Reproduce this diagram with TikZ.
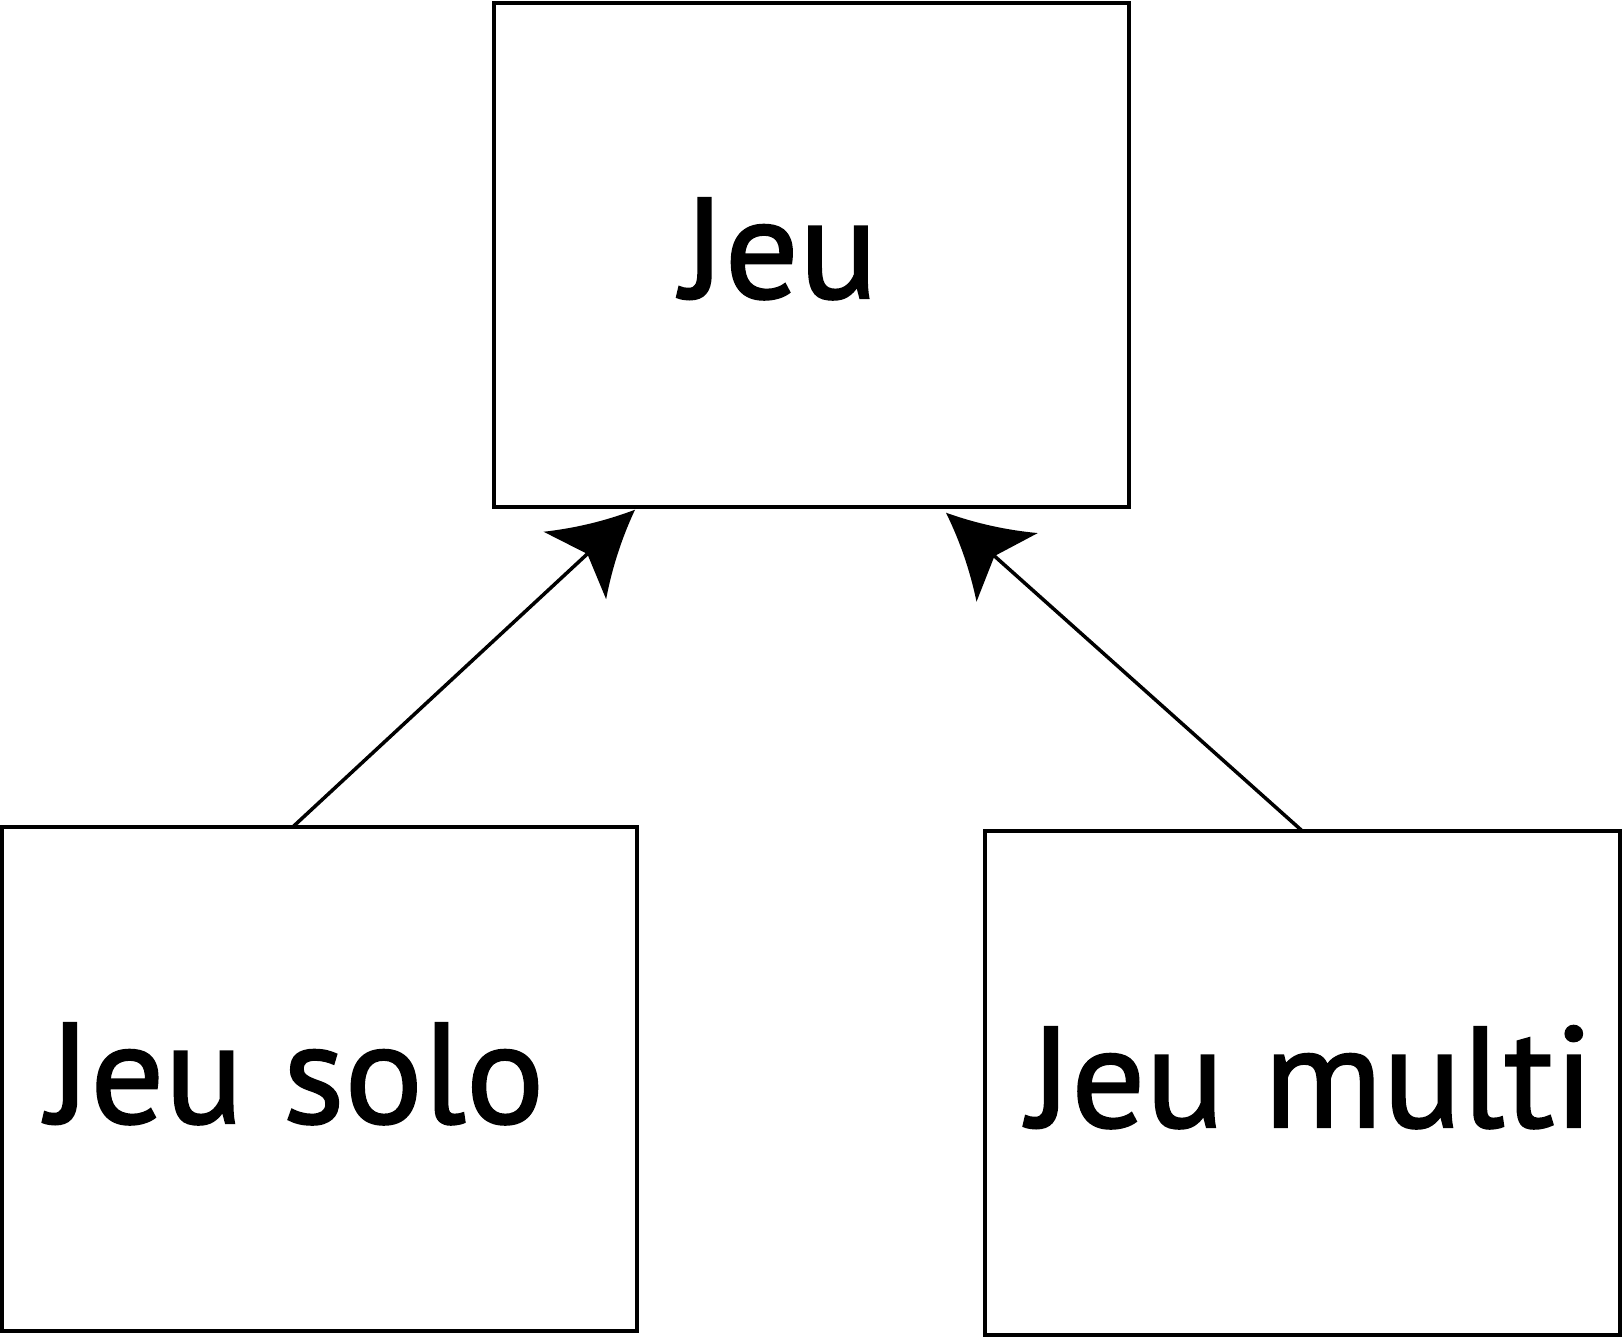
\documentclass[tikz,border=0pt]{standalone}
\usepackage{fontspec}
\setmainfont{PT Sans}[FakeStretch=1.025,FakeBold=1.5]
\pgfdeclarearrow{
  name = Swept,
  setup code = {
    \pgfarrowssettipend{0pt}
    \pgfarrowssetlineend{-58pt}
    \pgfarrowssetbackend{-82pt}
    \pgfarrowshullpoint{0pt}{0pt}
    \pgfarrowsupperhullpoint{-82pt}{46pt}
  },
  drawing code = {
    \pgfpathmoveto{\pgfpointorigin}
    \pgfpathquadraticcurveto{\pgfpoint{-43.9pt}{17.8pt}}{\pgfpoint{-82pt}{46pt}}
    \pgfpathlineto{\pgfpoint{-65pt}{0pt}}
    \pgfpathlineto{\pgfpoint{-82pt}{-46pt}}
    \pgfpathquadraticcurveto{\pgfpoint{-43.9pt}{-17.8pt}}{\pgfpointorigin}
    \pgfpathclose
    \pgfusepathqfill
  }
}
\tikzset{
  box/.style={draw, line width=4pt, inner sep=0pt, outer sep=0pt, minimum width=635pt, minimum height=504pt},
  lbl/.style={inner sep=0pt, outer sep=0pt, anchor=base, font=\fontsize{143}{150}\selectfont},
  arr/.style={line width=3.5pt, -Swept}
}
\begin{document}
\begin{tikzpicture}[x=1pt,y=1pt]
\useasboundingbox (0,0) rectangle (1622,1339);
\node[box] (jeu) at (811,1083.75) {};
\node[box] (solo) at (319.75,260.25) {};
\node[box] (multi) at (1302,256.25) {};
\node[lbl] (tjeu) at (780,1041) {Jeu};
\node[lbl] (tsolo) at (296,216) {Jeu solo};
\node[lbl] (tmulti) at (1311,212) {Jeu multi};
\draw[arr] ([xshift=-26.75pt]solo.north) -- ([xshift=-176pt,yshift=-2.5pt]jeu.south);
\draw[arr] (multi.north) -- ([xshift=135pt,yshift=-5.5pt]jeu.south);
\end{tikzpicture}
\end{document}
